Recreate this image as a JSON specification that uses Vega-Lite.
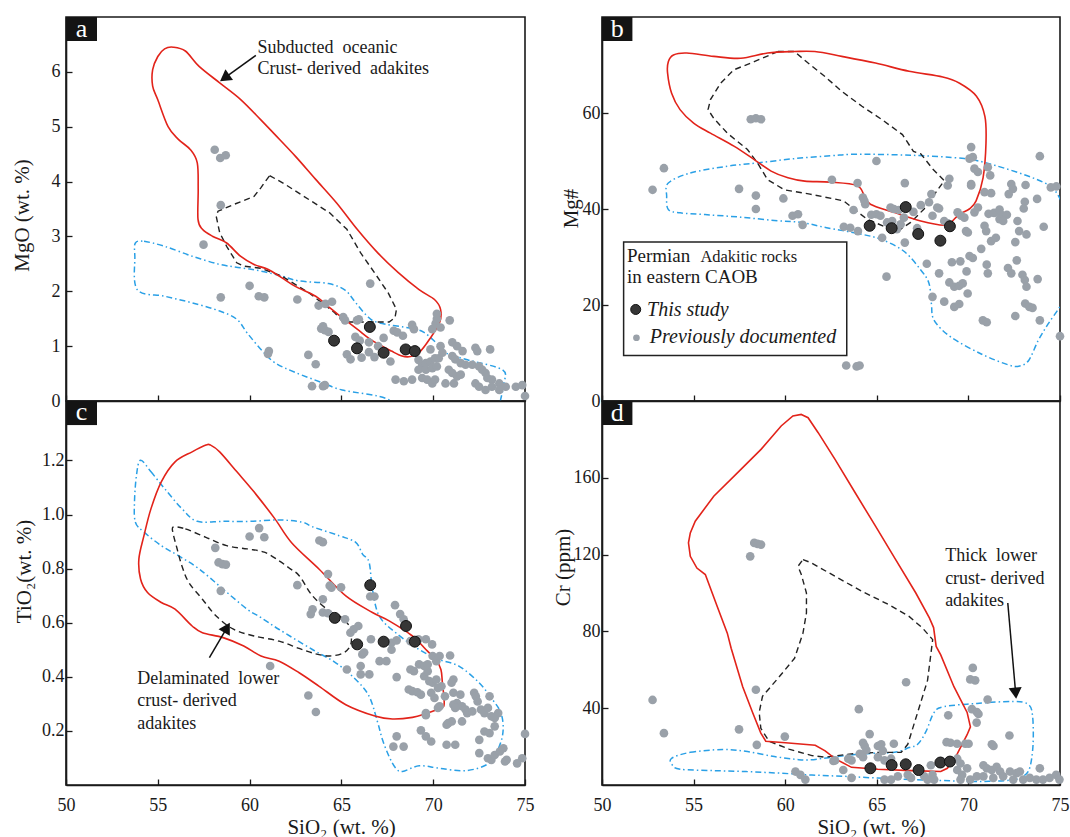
{
"$schema":"https://vega.github.io/schema/vega-lite/v6.json",
"background":"white",
"padding":{"left":10,"top":14,"right":0,"bottom":0},
"columns":2,
"spacing":{"row":0,"column":77},
"bounds":"flush",
"config":{
 "view":{"stroke":"#1a1a1a","strokeWidth":1.6},
 "axis":{"grid":false,"domainColor":"#1a1a1a","domainWidth":1.6,"tickColor":"#1a1a1a","tickWidth":1.3,"tickSize":-6,"labelFont":"Liberation Serif","labelFontSize":18,"labelColor":"#1a1a1a","titleFont":"Liberation Serif","titleFontSize":21,"titleFontWeight":"normal","titleColor":"#1a1a1a","labelFlush":false,"labelOverlap":false,"titleBaseline":"middle","titleAlign":"center"},
 "text":{"font":"Liberation Serif","color":"#1a1a1a"}
},
"datasets":{
"a_pts":[
{"SiO2":58.1,"MgO":4.58,"g":"p"},{"SiO2":58.4,"MgO":4.43,"g":"p"},{"SiO2":58.7,"MgO":4.48,"g":"p"},{"SiO2":58.43,"MgO":3.57,"g":"p"},{"SiO2":57.49,"MgO":2.85,"g":"p"},{"SiO2":58.43,"MgO":1.89,"g":"p"},{"SiO2":60.0,"MgO":2.1,"g":"p"},{"SiO2":60.5,"MgO":1.91,"g":"p"},{"SiO2":60.8,"MgO":1.89,"g":"p"},{"SiO2":62.6,"MgO":1.85,"g":"p"},{"SiO2":66.57,"MgO":2.14,"g":"p"},{"SiO2":61.05,"MgO":0.91,"g":"p"},{"SiO2":61.0,"MgO":0.86,"g":"p"},{"SiO2":63.2,"MgO":0.84,"g":"p"},{"SiO2":63.6,"MgO":0.67,"g":"p"},{"SiO2":63.4,"MgO":0.27,"g":"p"},{"SiO2":64.0,"MgO":0.27,"g":"p"},{"SiO2":64.1,"MgO":0.29,"g":"p"},{"SiO2":63.76,"MgO":1.74,"g":"p"},{"SiO2":64.13,"MgO":1.77,"g":"p"},{"SiO2":64.49,"MgO":1.81,"g":"p"},{"SiO2":63.9,"MgO":1.32,"g":"p"},{"SiO2":64.1,"MgO":1.29,"g":"p"},{"SiO2":64.3,"MgO":1.26,"g":"p"},{"SiO2":64.0,"MgO":1.36,"g":"p"},{"SiO2":65.1,"MgO":1.53,"g":"p"},{"SiO2":65.2,"MgO":1.47,"g":"p"},{"SiO2":65.85,"MgO":1.47,"g":"p"},{"SiO2":65.95,"MgO":1.49,"g":"p"},{"SiO2":65.76,"MgO":1.17,"g":"p"},{"SiO2":66.0,"MgO":1.1,"g":"p"},{"SiO2":66.5,"MgO":1.07,"g":"p"},{"SiO2":67.0,"MgO":1.0,"g":"p"},{"SiO2":65.3,"MgO":0.85,"g":"p"},{"SiO2":65.5,"MgO":0.76,"g":"p"},{"SiO2":66.1,"MgO":0.79,"g":"p"},{"SiO2":66.5,"MgO":0.89,"g":"p"},{"SiO2":67.85,"MgO":1.28,"g":"p"},{"SiO2":68.04,"MgO":1.25,"g":"p"},{"SiO2":68.35,"MgO":1.19,"g":"p"},{"SiO2":68.85,"MgO":1.39,"g":"p"},{"SiO2":68.95,"MgO":1.31,"g":"p"},{"SiO2":67.95,"MgO":0.39,"g":"p"},{"SiO2":68.4,"MgO":0.36,"g":"p"},{"SiO2":68.85,"MgO":0.39,"g":"p"},{"SiO2":67.67,"MgO":0.72,"g":"p"},{"SiO2":69.2,"MgO":0.75,"g":"p"},{"SiO2":69.4,"MgO":0.66,"g":"p"},{"SiO2":69.6,"MgO":0.69,"g":"p"},{"SiO2":69.85,"MgO":0.72,"g":"p"},{"SiO2":70.1,"MgO":0.78,"g":"p"},{"SiO2":69.2,"MgO":0.57,"g":"p"},{"SiO2":69.6,"MgO":0.57,"g":"p"},{"SiO2":69.95,"MgO":0.6,"g":"p"},{"SiO2":70.2,"MgO":0.63,"g":"p"},{"SiO2":69.4,"MgO":0.42,"g":"p"},{"SiO2":69.67,"MgO":0.39,"g":"p"},{"SiO2":69.95,"MgO":0.32,"g":"p"},{"SiO2":70.1,"MgO":0.39,"g":"p"},{"SiO2":70.3,"MgO":0.78,"g":"p"},{"SiO2":70.5,"MgO":0.88,"g":"p"},{"SiO2":70.4,"MgO":1.0,"g":"p"},{"SiO2":69.95,"MgO":1.31,"g":"p"},{"SiO2":70.13,"MgO":1.41,"g":"p"},{"SiO2":70.2,"MgO":1.5,"g":"p"},{"SiO2":70.2,"MgO":1.59,"g":"p"},{"SiO2":70.4,"MgO":1.34,"g":"p"},{"SiO2":70.9,"MgO":1.47,"g":"p"},{"SiO2":71.04,"MgO":1.07,"g":"p"},{"SiO2":71.3,"MgO":1.0,"g":"p"},{"SiO2":71.6,"MgO":0.91,"g":"p"},{"SiO2":71.04,"MgO":0.82,"g":"p"},{"SiO2":71.2,"MgO":0.76,"g":"p"},{"SiO2":71.5,"MgO":0.69,"g":"p"},{"SiO2":71.76,"MgO":0.66,"g":"p"},{"SiO2":72.13,"MgO":0.66,"g":"p"},{"SiO2":70.85,"MgO":0.57,"g":"p"},{"SiO2":71.04,"MgO":0.51,"g":"p"},{"SiO2":71.3,"MgO":0.45,"g":"p"},{"SiO2":70.67,"MgO":0.32,"g":"p"},{"SiO2":71.13,"MgO":0.32,"g":"p"},{"SiO2":71.5,"MgO":0.48,"g":"p"},{"SiO2":72.3,"MgO":0.97,"g":"p"},{"SiO2":72.4,"MgO":0.91,"g":"p"},{"SiO2":73.1,"MgO":0.94,"g":"p"},{"SiO2":72.5,"MgO":0.63,"g":"p"},{"SiO2":72.67,"MgO":0.57,"g":"p"},{"SiO2":72.85,"MgO":0.51,"g":"p"},{"SiO2":72.95,"MgO":0.42,"g":"p"},{"SiO2":73.2,"MgO":0.39,"g":"p"},{"SiO2":73.6,"MgO":0.32,"g":"p"},{"SiO2":73.95,"MgO":0.26,"g":"p"},{"SiO2":72.3,"MgO":0.32,"g":"p"},{"SiO2":72.5,"MgO":0.26,"g":"p"},{"SiO2":72.85,"MgO":0.2,"g":"p"},{"SiO2":73.2,"MgO":0.26,"g":"p"},{"SiO2":73.6,"MgO":0.2,"g":"p"},{"SiO2":74.5,"MgO":0.26,"g":"p"},{"SiO2":74.85,"MgO":0.29,"g":"p"},{"SiO2":75.0,"MgO":0.09,"g":"p"},{"SiO2":69.85,"MgO":0.94,"g":"p"},{"SiO2":67.3,"MgO":1.15,"g":"p"},{"SiO2":66.8,"MgO":0.8,"g":"p"},
{"SiO2":64.6,"MgO":1.1,"g":"t"},{"SiO2":65.85,"MgO":0.96,"g":"t"},{"SiO2":66.55,"MgO":1.35,"g":"t"},{"SiO2":67.3,"MgO":0.88,"g":"t"},{"SiO2":68.5,"MgO":0.94,"g":"t"},{"SiO2":69.0,"MgO":0.91,"g":"t"}],
"a_red":[{"SiO2":55.84,"MgO":6.45},{"SiO2":56.5,"MgO":6.38},{"SiO2":57.25,"MgO":6.1},{"SiO2":58.37,"MgO":5.8},{"SiO2":59.5,"MgO":5.5},{"SiO2":60.6,"MgO":5.13},{"SiO2":61.37,"MgO":4.86},{"SiO2":62.5,"MgO":4.46},{"SiO2":63.6,"MgO":4.04},{"SiO2":64.74,"MgO":3.61},{"SiO2":65.86,"MgO":3.13},{"SiO2":66.98,"MgO":2.7},{"SiO2":68.1,"MgO":2.34},{"SiO2":69.23,"MgO":2.03},{"SiO2":70.07,"MgO":1.85},{"SiO2":70.4,"MgO":1.67},{"SiO2":70.35,"MgO":1.43},{"SiO2":69.79,"MgO":1.12},{"SiO2":69.23,"MgO":0.88},{"SiO2":68.76,"MgO":0.81},{"SiO2":68.3,"MgO":0.82},{"SiO2":67.73,"MgO":0.91},{"SiO2":66.6,"MgO":1.12},{"SiO2":65.86,"MgO":1.31},{"SiO2":64.93,"MgO":1.55},{"SiO2":64.36,"MgO":1.7},{"SiO2":63.6,"MgO":1.91},{"SiO2":62.49,"MgO":2.09},{"SiO2":61.74,"MgO":2.25},{"SiO2":60.99,"MgO":2.4},{"SiO2":60.24,"MgO":2.49},{"SiO2":59.5,"MgO":2.64},{"SiO2":58.75,"MgO":2.88},{"SiO2":58.0,"MgO":3.0},{"SiO2":57.43,"MgO":3.13},{"SiO2":57.19,"MgO":3.31},{"SiO2":57.2,"MgO":3.86},{"SiO2":57.15,"MgO":4.34},{"SiO2":56.78,"MgO":4.58},{"SiO2":56.12,"MgO":4.77},{"SiO2":55.56,"MgO":5.0},{"SiO2":55.0,"MgO":5.49},{"SiO2":54.72,"MgO":5.74},{"SiO2":54.72,"MgO":6.04},{"SiO2":55.0,"MgO":6.28},{"SiO2":55.37,"MgO":6.42}],
"a_blk":[{"SiO2":61.09,"MgO":4.11},{"SiO2":61.93,"MgO":3.95},{"SiO2":63.24,"MgO":3.67},{"SiO2":64.36,"MgO":3.43},{"SiO2":65.3,"MgO":3.13},{"SiO2":66.05,"MgO":2.7},{"SiO2":66.8,"MgO":2.34},{"SiO2":67.55,"MgO":1.97},{"SiO2":68.0,"MgO":1.67},{"SiO2":67.92,"MgO":1.52},{"SiO2":67.6,"MgO":1.44},{"SiO2":66.3,"MgO":1.44},{"SiO2":65.1,"MgO":1.44},{"SiO2":64.6,"MgO":1.62},{"SiO2":63.24,"MgO":1.97},{"SiO2":61.74,"MgO":2.28},{"SiO2":60.6,"MgO":2.42},{"SiO2":59.68,"MgO":2.46},{"SiO2":59.3,"MgO":2.52},{"SiO2":58.75,"MgO":2.82},{"SiO2":58.37,"MgO":3.07},{"SiO2":58.18,"MgO":3.37},{"SiO2":58.28,"MgO":3.46},{"SiO2":59.12,"MgO":3.58},{"SiO2":60.24,"MgO":3.73},{"SiO2":60.62,"MgO":3.89}],
"a_blu":[{"SiO2":53.78,"MgO":2.88},{"SiO2":54.25,"MgO":2.91},{"SiO2":55.37,"MgO":2.82},{"SiO2":56.87,"MgO":2.64},{"SiO2":58.37,"MgO":2.49},{"SiO2":59.5,"MgO":2.43},{"SiO2":60.6,"MgO":2.37},{"SiO2":61.74,"MgO":2.28},{"SiO2":62.68,"MgO":2.19},{"SiO2":64.3,"MgO":2.14},{"SiO2":65.2,"MgO":2.02},{"SiO2":65.76,"MgO":1.8},{"SiO2":66.4,"MgO":1.55},{"SiO2":67.0,"MgO":1.43},{"SiO2":68.85,"MgO":1.32},{"SiO2":69.5,"MgO":1.25},{"SiO2":70.13,"MgO":1.07},{"SiO2":70.67,"MgO":0.88},{"SiO2":71.76,"MgO":0.76},{"SiO2":73.76,"MgO":0.57},{"SiO2":73.85,"MgO":0.32},{"SiO2":73.67,"MgO":0.02},{"SiO2":73.4,"MgO":-0.4},{"SiO2":68.2,"MgO":-0.4},{"SiO2":67.6,"MgO":0.02},{"SiO2":65.04,"MgO":0.2},{"SiO2":63.99,"MgO":0.33},{"SiO2":62.49,"MgO":0.52},{"SiO2":61.37,"MgO":0.7},{"SiO2":60.62,"MgO":0.94},{"SiO2":59.87,"MgO":1.24},{"SiO2":59.3,"MgO":1.49},{"SiO2":58.37,"MgO":1.64},{"SiO2":56.87,"MgO":1.79},{"SiO2":55.37,"MgO":1.91},{"SiO2":53.88,"MgO":2.03},{"SiO2":53.75,"MgO":2.64}],
"b_pts":[
{"SiO2":52.76,"Mg":44.0,"g":"p"},{"SiO2":53.38,"Mg":48.5,"g":"p"},{"SiO2":57.48,"Mg":44.2,"g":"p"},{"SiO2":58.4,"Mg":42.8,"g":"p"},{"SiO2":58.4,"Mg":40.0,"g":"p"},{"SiO2":58.12,"Mg":58.7,"g":"p"},{"SiO2":58.4,"Mg":58.9,"g":"p"},{"SiO2":58.68,"Mg":58.7,"g":"p"},{"SiO2":59.9,"Mg":42.2,"g":"p"},{"SiO2":60.4,"Mg":38.6,"g":"p"},{"SiO2":60.7,"Mg":38.9,"g":"p"},{"SiO2":60.95,"Mg":36.7,"g":"p"},{"SiO2":62.55,"Mg":46.1,"g":"p"},{"SiO2":63.2,"Mg":36.3,"g":"p"},{"SiO2":63.55,"Mg":36.1,"g":"p"},{"SiO2":63.95,"Mg":45.4,"g":"p"},{"SiO2":63.97,"Mg":35.4,"g":"p"},{"SiO2":64.24,"Mg":42.4,"g":"p"},{"SiO2":64.32,"Mg":41.7,"g":"p"},{"SiO2":64.37,"Mg":41.0,"g":"p"},{"SiO2":63.73,"Mg":39.8,"g":"p"},{"SiO2":64.98,"Mg":38.9,"g":"p"},{"SiO2":65.2,"Mg":38.6,"g":"p"},{"SiO2":65.29,"Mg":34.0,"g":"p"},{"SiO2":65.75,"Mg":40.3,"g":"p"},{"SiO2":65.93,"Mg":40.0,"g":"p"},{"SiO2":66.2,"Mg":39.8,"g":"p"},{"SiO2":65.56,"Mg":37.2,"g":"p"},{"SiO2":65.84,"Mg":37.5,"g":"p"},{"SiO2":66.48,"Mg":38.2,"g":"p"},{"SiO2":66.53,"Mg":45.4,"g":"p"},{"SiO2":66.53,"Mg":33.0,"g":"p"},{"SiO2":65.53,"Mg":25.9,"g":"p"},{"SiO2":64.98,"Mg":50.0,"g":"p"},{"SiO2":67.0,"Mg":39.4,"g":"p"},{"SiO2":67.4,"Mg":40.8,"g":"p"},{"SiO2":67.98,"Mg":43.1,"g":"p"},{"SiO2":67.85,"Mg":41.4,"g":"p"},{"SiO2":68.04,"Mg":38.6,"g":"p"},{"SiO2":68.3,"Mg":40.3,"g":"p"},{"SiO2":68.4,"Mg":40.1,"g":"p"},{"SiO2":68.68,"Mg":37.5,"g":"p"},{"SiO2":68.87,"Mg":37.0,"g":"p"},{"SiO2":68.87,"Mg":44.9,"g":"p"},{"SiO2":68.96,"Mg":46.3,"g":"p"},{"SiO2":69.41,"Mg":39.3,"g":"p"},{"SiO2":69.6,"Mg":38.6,"g":"p"},{"SiO2":69.78,"Mg":38.2,"g":"p"},{"SiO2":69.87,"Mg":35.4,"g":"p"},{"SiO2":69.97,"Mg":35.1,"g":"p"},{"SiO2":70.15,"Mg":52.9,"g":"p"},{"SiO2":70.24,"Mg":50.8,"g":"p"},{"SiO2":70.06,"Mg":50.5,"g":"p"},{"SiO2":70.33,"Mg":48.4,"g":"p"},{"SiO2":70.52,"Mg":47.7,"g":"p"},{"SiO2":70.15,"Mg":45.2,"g":"p"},{"SiO2":70.15,"Mg":44.9,"g":"p"},{"SiO2":71.06,"Mg":48.7,"g":"p"},{"SiO2":71.19,"Mg":47.0,"g":"p"},{"SiO2":70.88,"Mg":43.5,"g":"p"},{"SiO2":71.24,"Mg":43.3,"g":"p"},{"SiO2":70.52,"Mg":40.3,"g":"p"},{"SiO2":70.33,"Mg":39.3,"g":"p"},{"SiO2":71.1,"Mg":39.0,"g":"p"},{"SiO2":71.4,"Mg":39.2,"g":"p"},{"SiO2":71.7,"Mg":39.9,"g":"p"},{"SiO2":71.8,"Mg":38.8,"g":"p"},{"SiO2":72.1,"Mg":38.8,"g":"p"},{"SiO2":71.7,"Mg":37.9,"g":"p"},{"SiO2":71.9,"Mg":37.5,"g":"p"},{"SiO2":70.88,"Mg":36.5,"g":"p"},{"SiO2":70.97,"Mg":35.4,"g":"p"},{"SiO2":71.24,"Mg":33.3,"g":"p"},{"SiO2":71.5,"Mg":34.0,"g":"p"},{"SiO2":70.7,"Mg":31.7,"g":"p"},{"SiO2":70.06,"Mg":30.2,"g":"p"},{"SiO2":70.24,"Mg":29.8,"g":"p"},{"SiO2":69.1,"Mg":28.9,"g":"p"},{"SiO2":69.56,"Mg":29.1,"g":"p"},{"SiO2":67.73,"Mg":28.6,"g":"p"},{"SiO2":68.4,"Mg":26.6,"g":"p"},{"SiO2":68.96,"Mg":24.7,"g":"p"},{"SiO2":69.23,"Mg":23.8,"g":"p"},{"SiO2":69.5,"Mg":24.0,"g":"p"},{"SiO2":69.69,"Mg":24.5,"g":"p"},{"SiO2":69.9,"Mg":27.0,"g":"p"},{"SiO2":69.96,"Mg":22.4,"g":"p"},{"SiO2":68.04,"Mg":21.7,"g":"p"},{"SiO2":68.68,"Mg":20.7,"g":"p"},{"SiO2":69.23,"Mg":19.6,"g":"p"},{"SiO2":69.5,"Mg":20.2,"g":"p"},{"SiO2":71.0,"Mg":28.4,"g":"p"},{"SiO2":71.06,"Mg":26.6,"g":"p"},{"SiO2":72.16,"Mg":27.7,"g":"p"},{"SiO2":72.34,"Mg":26.6,"g":"p"},{"SiO2":72.64,"Mg":29.3,"g":"p"},{"SiO2":72.56,"Mg":33.1,"g":"p"},{"SiO2":72.77,"Mg":35.4,"g":"p"},{"SiO2":73.17,"Mg":34.7,"g":"p"},{"SiO2":72.68,"Mg":37.5,"g":"p"},{"SiO2":72.95,"Mg":26.3,"g":"p"},{"SiO2":73.08,"Mg":25.2,"g":"p"},{"SiO2":73.17,"Mg":23.8,"g":"p"},{"SiO2":73.78,"Mg":25.4,"g":"p"},{"SiO2":74.11,"Mg":36.3,"g":"p"},{"SiO2":73.9,"Mg":51.0,"g":"p"},{"SiO2":74.5,"Mg":44.5,"g":"p"},{"SiO2":74.8,"Mg":44.7,"g":"p"},{"SiO2":73.12,"Mg":45.0,"g":"p"},{"SiO2":73.08,"Mg":41.5,"g":"p"},{"SiO2":73.02,"Mg":40.1,"g":"p"},{"SiO2":72.34,"Mg":45.2,"g":"p"},{"SiO2":72.43,"Mg":44.2,"g":"p"},{"SiO2":72.2,"Mg":43.1,"g":"p"},{"SiO2":73.75,"Mg":42.1,"g":"p"},{"SiO2":73.1,"Mg":20.3,"g":"p"},{"SiO2":73.33,"Mg":19.6,"g":"p"},{"SiO2":73.5,"Mg":19.4,"g":"p"},{"SiO2":72.56,"Mg":17.7,"g":"p"},{"SiO2":73.9,"Mg":16.8,"g":"p"},{"SiO2":70.79,"Mg":16.8,"g":"p"},{"SiO2":71.0,"Mg":16.4,"g":"p"},{"SiO2":75.0,"Mg":13.5,"g":"p"},{"SiO2":63.33,"Mg":7.4,"g":"p"},{"SiO2":63.9,"Mg":7.2,"g":"p"},{"SiO2":64.06,"Mg":7.4,"g":"p"},{"SiO2":66.1,"Mg":35.8,"g":"p"},{"SiO2":66.3,"Mg":36.8,"g":"p"},{"SiO2":67.2,"Mg":36.0,"g":"p"},{"SiO2":64.7,"Mg":38.8,"g":"p"},
{"SiO2":64.61,"Mg":36.5,"g":"t"},{"SiO2":65.81,"Mg":36.0,"g":"t"},{"SiO2":66.58,"Mg":40.4,"g":"t"},{"SiO2":67.26,"Mg":34.8,"g":"t"},{"SiO2":68.47,"Mg":33.4,"g":"t"},{"SiO2":68.99,"Mg":36.4,"g":"t"}],
"b_red":[{"SiO2":53.9,"Mg":72.1},{"SiO2":54.63,"Mg":72.5},{"SiO2":56.1,"Mg":71.8},{"SiO2":57.57,"Mg":71.4},{"SiO2":59.04,"Mg":72.5},{"SiO2":60.51,"Mg":72.8},{"SiO2":61.62,"Mg":72.8},{"SiO2":63.09,"Mg":71.8},{"SiO2":64.93,"Mg":70.4},{"SiO2":66.76,"Mg":68.7},{"SiO2":68.6,"Mg":67.5},{"SiO2":69.52,"Mg":66.2},{"SiO2":70.44,"Mg":63.5},{"SiO2":70.9,"Mg":59.3},{"SiO2":70.96,"Mg":53.7},{"SiO2":70.8,"Mg":46.5},{"SiO2":70.42,"Mg":41.7},{"SiO2":70.05,"Mg":40.0},{"SiO2":69.5,"Mg":38.9},{"SiO2":69.05,"Mg":37.2},{"SiO2":68.7,"Mg":36.6},{"SiO2":67.4,"Mg":37.5},{"SiO2":65.93,"Mg":39.3},{"SiO2":64.65,"Mg":41.0},{"SiO2":64.32,"Mg":42.8},{"SiO2":63.91,"Mg":44.9},{"SiO2":62.45,"Mg":45.6},{"SiO2":61.07,"Mg":45.8},{"SiO2":60.15,"Mg":46.5},{"SiO2":59.23,"Mg":47.9},{"SiO2":58.31,"Mg":50.3},{"SiO2":57.2,"Mg":53.1},{"SiO2":55.92,"Mg":55.8},{"SiO2":55.0,"Mg":57.9},{"SiO2":54.26,"Mg":60.7},{"SiO2":53.8,"Mg":64.1},{"SiO2":53.58,"Mg":68.3},{"SiO2":53.62,"Mg":70.7}],
"b_blk":[{"SiO2":59.6,"Mg":72.8},{"SiO2":60.51,"Mg":72.8},{"SiO2":61.25,"Mg":70.4},{"SiO2":62.17,"Mg":67.6},{"SiO2":63.09,"Mg":64.5},{"SiO2":64.19,"Mg":61.4},{"SiO2":65.29,"Mg":58.6},{"SiO2":66.4,"Mg":55.5},{"SiO2":67.0,"Mg":52.0},{"SiO2":67.4,"Mg":51.5},{"SiO2":68.04,"Mg":48.4},{"SiO2":68.68,"Mg":45.9},{"SiO2":67.58,"Mg":40.0},{"SiO2":66.85,"Mg":37.2},{"SiO2":66.3,"Mg":35.8},{"SiO2":65.56,"Mg":36.1},{"SiO2":64.46,"Mg":37.9},{"SiO2":63.18,"Mg":41.7},{"SiO2":61.35,"Mg":43.1},{"SiO2":59.96,"Mg":44.0},{"SiO2":59.04,"Mg":46.1},{"SiO2":58.49,"Mg":49.6},{"SiO2":57.94,"Mg":52.4},{"SiO2":56.84,"Mg":55.8},{"SiO2":56.1,"Mg":58.9},{"SiO2":55.79,"Mg":60.7},{"SiO2":55.92,"Mg":62.8},{"SiO2":56.47,"Mg":66.2},{"SiO2":57.2,"Mg":69.0},{"SiO2":58.31,"Mg":70.7}],
"b_blu":[{"SiO2":53.62,"Mg":45.4},{"SiO2":54.82,"Mg":47.5},{"SiO2":56.84,"Mg":48.9},{"SiO2":58.49,"Mg":49.6},{"SiO2":60.51,"Mg":50.5},{"SiO2":62.54,"Mg":51.1},{"SiO2":63.91,"Mg":51.4},{"SiO2":66.85,"Mg":51.2},{"SiO2":69.78,"Mg":50.5},{"SiO2":71.43,"Mg":49.1},{"SiO2":73.44,"Mg":46.6},{"SiO2":74.54,"Mg":44.5},{"SiO2":75.09,"Mg":41.4},{"SiO2":75.6,"Mg":36},{"SiO2":75.6,"Mg":25},{"SiO2":75.09,"Mg":20.3},{"SiO2":74.36,"Mg":16.1},{"SiO2":73.81,"Mg":12.6},{"SiO2":73.3,"Mg":8.5},{"SiO2":72.8,"Mg":7.3},{"SiO2":72.2,"Mg":7.5},{"SiO2":70.7,"Mg":9.8},{"SiO2":69.05,"Mg":13.3},{"SiO2":68.13,"Mg":16.8},{"SiO2":67.98,"Mg":20.3},{"SiO2":67.85,"Mg":24.5},{"SiO2":67.4,"Mg":27.3},{"SiO2":66.48,"Mg":31.2},{"SiO2":65.29,"Mg":33.6},{"SiO2":64.1,"Mg":34.8},{"SiO2":62.26,"Mg":36.1},{"SiO2":60.88,"Mg":37.2},{"SiO2":59.41,"Mg":37.6},{"SiO2":57.57,"Mg":38.3},{"SiO2":55.74,"Mg":38.8},{"SiO2":54.27,"Mg":39.2},{"SiO2":53.62,"Mg":39.9},{"SiO2":53.53,"Mg":42.7}],
"c_pts":[
{"SiO2":58.13,"TiO2":0.877,"g":"p"},{"SiO2":58.31,"TiO2":0.823,"g":"p"},{"SiO2":58.52,"TiO2":0.817,"g":"p"},{"SiO2":58.71,"TiO2":0.815,"g":"p"},{"SiO2":58.43,"TiO2":0.718,"g":"p"},{"SiO2":60.0,"TiO2":0.919,"g":"p"},{"SiO2":60.52,"TiO2":0.95,"g":"p"},{"SiO2":60.8,"TiO2":0.916,"g":"p"},{"SiO2":61.12,"TiO2":0.44,"g":"p"},{"SiO2":62.6,"TiO2":0.739,"g":"p"},{"SiO2":63.2,"TiO2":0.331,"g":"p"},{"SiO2":63.61,"TiO2":0.27,"g":"p"},{"SiO2":63.8,"TiO2":0.904,"g":"p"},{"SiO2":63.99,"TiO2":0.898,"g":"p"},{"SiO2":64.27,"TiO2":0.78,"g":"p"},{"SiO2":64.36,"TiO2":0.737,"g":"p"},{"SiO2":64.46,"TiO2":0.73,"g":"p"},{"SiO2":64.98,"TiO2":0.731,"g":"p"},{"SiO2":63.99,"TiO2":0.687,"g":"p"},{"SiO2":63.43,"TiO2":0.65,"g":"p"},{"SiO2":63.33,"TiO2":0.632,"g":"p"},{"SiO2":63.99,"TiO2":0.638,"g":"p"},{"SiO2":64.27,"TiO2":0.635,"g":"p"},{"SiO2":65.2,"TiO2":0.613,"g":"p"},{"SiO2":65.49,"TiO2":0.563,"g":"p"},{"SiO2":65.67,"TiO2":0.576,"g":"p"},{"SiO2":65.92,"TiO2":0.588,"g":"p"},{"SiO2":66.14,"TiO2":0.483,"g":"p"},{"SiO2":66.24,"TiO2":0.49,"g":"p"},{"SiO2":65.3,"TiO2":0.427,"g":"p"},{"SiO2":66.05,"TiO2":0.44,"g":"p"},{"SiO2":66.05,"TiO2":0.409,"g":"p"},{"SiO2":66.52,"TiO2":0.409,"g":"p"},{"SiO2":66.57,"TiO2":0.697,"g":"p"},{"SiO2":66.8,"TiO2":0.697,"g":"p"},{"SiO2":66.61,"TiO2":0.539,"g":"p"},{"SiO2":67.08,"TiO2":0.458,"g":"p"},{"SiO2":67.45,"TiO2":0.458,"g":"p"},{"SiO2":67.73,"TiO2":0.526,"g":"p"},{"SiO2":67.73,"TiO2":0.5,"g":"p"},{"SiO2":67.92,"TiO2":0.665,"g":"p"},{"SiO2":68.01,"TiO2":0.535,"g":"p"},{"SiO2":68.01,"TiO2":0.399,"g":"p"},{"SiO2":68.2,"TiO2":0.632,"g":"p"},{"SiO2":68.39,"TiO2":0.613,"g":"p"},{"SiO2":68.76,"TiO2":0.532,"g":"p"},{"SiO2":68.86,"TiO2":0.529,"g":"p"},{"SiO2":69.2,"TiO2":0.539,"g":"p"},{"SiO2":69.6,"TiO2":0.539,"g":"p"},{"SiO2":69.94,"TiO2":0.52,"g":"p"},{"SiO2":68.76,"TiO2":0.427,"g":"p"},{"SiO2":68.95,"TiO2":0.421,"g":"p"},{"SiO2":68.67,"TiO2":0.353,"g":"p"},{"SiO2":68.86,"TiO2":0.347,"g":"p"},{"SiO2":69.14,"TiO2":0.343,"g":"p"},{"SiO2":69.33,"TiO2":0.334,"g":"p"},{"SiO2":69.51,"TiO2":0.402,"g":"p"},{"SiO2":69.7,"TiO2":0.421,"g":"p"},{"SiO2":69.23,"TiO2":0.446,"g":"p"},{"SiO2":69.51,"TiO2":0.44,"g":"p"},{"SiO2":69.7,"TiO2":0.446,"g":"p"},{"SiO2":69.97,"TiO2":0.477,"g":"p"},{"SiO2":70.17,"TiO2":0.458,"g":"p"},{"SiO2":70.35,"TiO2":0.477,"g":"p"},{"SiO2":69.79,"TiO2":0.384,"g":"p"},{"SiO2":69.97,"TiO2":0.378,"g":"p"},{"SiO2":70.17,"TiO2":0.39,"g":"p"},{"SiO2":69.89,"TiO2":0.341,"g":"p"},{"SiO2":70.07,"TiO2":0.322,"g":"p"},{"SiO2":70.26,"TiO2":0.359,"g":"p"},{"SiO2":70.45,"TiO2":0.365,"g":"p"},{"SiO2":70.35,"TiO2":0.291,"g":"p"},{"SiO2":70.26,"TiO2":0.285,"g":"p"},{"SiO2":69.6,"TiO2":0.266,"g":"p"},{"SiO2":69.6,"TiO2":0.258,"g":"p"},{"SiO2":69.33,"TiO2":0.202,"g":"p"},{"SiO2":69.6,"TiO2":0.18,"g":"p"},{"SiO2":69.89,"TiO2":0.161,"g":"p"},{"SiO2":68.01,"TiO2":0.18,"g":"p"},{"SiO2":67.83,"TiO2":0.142,"g":"p"},{"SiO2":68.39,"TiO2":0.142,"g":"p"},{"SiO2":70.73,"TiO2":0.223,"g":"p"},{"SiO2":70.82,"TiO2":0.229,"g":"p"},{"SiO2":71.01,"TiO2":0.235,"g":"p"},{"SiO2":70.73,"TiO2":0.149,"g":"p"},{"SiO2":71.2,"TiO2":0.149,"g":"p"},{"SiO2":70.92,"TiO2":0.479,"g":"p"},{"SiO2":71.1,"TiO2":0.39,"g":"p"},{"SiO2":71.0,"TiO2":0.378,"g":"p"},{"SiO2":70.64,"TiO2":0.328,"g":"p"},{"SiO2":71.1,"TiO2":0.341,"g":"p"},{"SiO2":71.48,"TiO2":0.334,"g":"p"},{"SiO2":71.29,"TiO2":0.303,"g":"p"},{"SiO2":71.57,"TiO2":0.291,"g":"p"},{"SiO2":71.76,"TiO2":0.279,"g":"p"},{"SiO2":71.1,"TiO2":0.297,"g":"p"},{"SiO2":71.2,"TiO2":0.285,"g":"p"},{"SiO2":71.57,"TiO2":0.235,"g":"p"},{"SiO2":71.85,"TiO2":0.266,"g":"p"},{"SiO2":72.13,"TiO2":0.272,"g":"p"},{"SiO2":72.23,"TiO2":0.341,"g":"p"},{"SiO2":72.32,"TiO2":0.328,"g":"p"},{"SiO2":72.42,"TiO2":0.309,"g":"p"},{"SiO2":72.6,"TiO2":0.279,"g":"p"},{"SiO2":72.79,"TiO2":0.266,"g":"p"},{"SiO2":72.98,"TiO2":0.285,"g":"p"},{"SiO2":73.07,"TiO2":0.328,"g":"p"},{"SiO2":72.51,"TiO2":0.167,"g":"p"},{"SiO2":72.51,"TiO2":0.118,"g":"p"},{"SiO2":72.79,"TiO2":0.198,"g":"p"},{"SiO2":73.07,"TiO2":0.192,"g":"p"},{"SiO2":73.35,"TiO2":0.217,"g":"p"},{"SiO2":72.98,"TiO2":0.099,"g":"p"},{"SiO2":73.17,"TiO2":0.093,"g":"p"},{"SiO2":73.35,"TiO2":0.111,"g":"p"},{"SiO2":73.63,"TiO2":0.124,"g":"p"},{"SiO2":73.82,"TiO2":0.136,"g":"p"},{"SiO2":73.91,"TiO2":0.087,"g":"p"},{"SiO2":74.0,"TiO2":0.093,"g":"p"},{"SiO2":74.57,"TiO2":0.08,"g":"p"},{"SiO2":74.85,"TiO2":0.099,"g":"p"},{"SiO2":75.0,"TiO2":0.189,"g":"p"},{"SiO2":73.17,"TiO2":0.254,"g":"p"},{"SiO2":73.35,"TiO2":0.248,"g":"p"},{"SiO2":73.54,"TiO2":0.266,"g":"p"},
{"SiO2":64.64,"TiO2":0.618,"g":"t"},{"SiO2":65.86,"TiO2":0.52,"g":"t"},{"SiO2":66.57,"TiO2":0.739,"g":"t"},{"SiO2":67.3,"TiO2":0.53,"g":"t"},{"SiO2":68.52,"TiO2":0.588,"g":"t"},{"SiO2":69.0,"TiO2":0.53,"g":"t"}],
"c_red":[{"SiO2":57.87,"TiO2":1.257},{"SiO2":58.37,"TiO2":1.232},{"SiO2":59.31,"TiO2":1.158},{"SiO2":60.24,"TiO2":1.084},{"SiO2":61.37,"TiO2":0.985},{"SiO2":62.3,"TiO2":0.895},{"SiO2":63.79,"TiO2":0.798},{"SiO2":65.24,"TiO2":0.699},{"SiO2":66.69,"TiO2":0.638},{"SiO2":67.6,"TiO2":0.607},{"SiO2":68.87,"TiO2":0.551},{"SiO2":69.6,"TiO2":0.501},{"SiO2":70.14,"TiO2":0.464},{"SiO2":70.42,"TiO2":0.427},{"SiO2":70.5,"TiO2":0.378},{"SiO2":70.6,"TiO2":0.303},{"SiO2":70.42,"TiO2":0.285},{"SiO2":69.6,"TiO2":0.264},{"SiO2":68.87,"TiO2":0.25},{"SiO2":67.78,"TiO2":0.244},{"SiO2":66.87,"TiO2":0.254},{"SiO2":65.24,"TiO2":0.297},{"SiO2":63.79,"TiO2":0.365},{"SiO2":62.7,"TiO2":0.415},{"SiO2":61.61,"TiO2":0.458},{"SiO2":60.62,"TiO2":0.477},{"SiO2":59.68,"TiO2":0.514},{"SiO2":58.56,"TiO2":0.545},{"SiO2":57.43,"TiO2":0.563},{"SiO2":56.87,"TiO2":0.588},{"SiO2":55.94,"TiO2":0.65},{"SiO2":55.19,"TiO2":0.675},{"SiO2":54.44,"TiO2":0.712},{"SiO2":54.06,"TiO2":0.762},{"SiO2":53.97,"TiO2":0.836},{"SiO2":54.25,"TiO2":0.923},{"SiO2":54.63,"TiO2":1.022},{"SiO2":55.19,"TiO2":1.121},{"SiO2":55.94,"TiO2":1.195},{"SiO2":56.87,"TiO2":1.232},{"SiO2":57.62,"TiO2":1.257}],
"c_blk":[{"SiO2":55.84,"TiO2":0.954},{"SiO2":56.5,"TiO2":0.947},{"SiO2":57.62,"TiO2":0.916},{"SiO2":58.75,"TiO2":0.885},{"SiO2":59.87,"TiO2":0.873},{"SiO2":60.8,"TiO2":0.861},{"SiO2":61.61,"TiO2":0.829},{"SiO2":62.2,"TiO2":0.8},{"SiO2":62.7,"TiO2":0.774},{"SiO2":63.42,"TiO2":0.7},{"SiO2":64.33,"TiO2":0.644},{"SiO2":65.0,"TiO2":0.62},{"SiO2":65.45,"TiO2":0.585},{"SiO2":65.55,"TiO2":0.545},{"SiO2":65.45,"TiO2":0.51},{"SiO2":65.06,"TiO2":0.487},{"SiO2":64.36,"TiO2":0.477},{"SiO2":63.6,"TiO2":0.485},{"SiO2":62.7,"TiO2":0.505},{"SiO2":61.61,"TiO2":0.532},{"SiO2":60.24,"TiO2":0.551},{"SiO2":59.12,"TiO2":0.576},{"SiO2":58.18,"TiO2":0.625},{"SiO2":57.43,"TiO2":0.687},{"SiO2":56.69,"TiO2":0.749},{"SiO2":56.31,"TiO2":0.811},{"SiO2":56.03,"TiO2":0.879},{"SiO2":55.84,"TiO2":0.929}],
"c_blu":[{"SiO2":54.06,"TiO2":1.201},{"SiO2":54.63,"TiO2":1.158},{"SiO2":55.37,"TiO2":1.096},{"SiO2":56.31,"TiO2":1.022},{"SiO2":57.15,"TiO2":0.975},{"SiO2":58.56,"TiO2":0.975},{"SiO2":60.06,"TiO2":0.975},{"SiO2":61.61,"TiO2":0.98},{"SiO2":62.87,"TiO2":0.972},{"SiO2":63.42,"TiO2":0.955},{"SiO2":64.87,"TiO2":0.922},{"SiO2":65.78,"TiO2":0.897},{"SiO2":66.15,"TiO2":0.854},{"SiO2":66.51,"TiO2":0.823},{"SiO2":66.69,"TiO2":0.724},{"SiO2":67.06,"TiO2":0.625},{"SiO2":67.96,"TiO2":0.563},{"SiO2":69.24,"TiO2":0.501},{"SiO2":70.33,"TiO2":0.464},{"SiO2":71.42,"TiO2":0.439},{"SiO2":72.5,"TiO2":0.378},{"SiO2":73.23,"TiO2":0.316},{"SiO2":73.69,"TiO2":0.266},{"SiO2":73.81,"TiO2":0.204},{"SiO2":73.6,"TiO2":0.143},{"SiO2":73.05,"TiO2":0.081},{"SiO2":71.78,"TiO2":0.053},{"SiO2":70.33,"TiO2":0.062},{"SiO2":69.24,"TiO2":0.071},{"SiO2":68.33,"TiO2":0.05},{"SiO2":67.96,"TiO2":0.062},{"SiO2":67.6,"TiO2":0.105},{"SiO2":67.24,"TiO2":0.167},{"SiO2":66.96,"TiO2":0.235},{"SiO2":66.51,"TiO2":0.328},{"SiO2":65.78,"TiO2":0.39},{"SiO2":64.69,"TiO2":0.452},{"SiO2":63.42,"TiO2":0.501},{"SiO2":61.61,"TiO2":0.575},{"SiO2":60.6,"TiO2":0.62},{"SiO2":59.87,"TiO2":0.65},{"SiO2":58.56,"TiO2":0.724},{"SiO2":57.25,"TiO2":0.799},{"SiO2":56.12,"TiO2":0.848},{"SiO2":55.19,"TiO2":0.885},{"SiO2":54.25,"TiO2":0.935},{"SiO2":53.78,"TiO2":0.972},{"SiO2":53.73,"TiO2":1.046},{"SiO2":53.84,"TiO2":1.146}],
"d_pts":[
{"SiO2":52.76,"Cr":44.3,"g":"p"},{"SiO2":53.38,"Cr":27.0,"g":"p"},{"SiO2":57.48,"Cr":29.0,"g":"p"},{"SiO2":58.09,"Cr":119.1,"g":"p"},{"SiO2":58.31,"Cr":126.1,"g":"p"},{"SiO2":58.49,"Cr":125.6,"g":"p"},{"SiO2":58.68,"Cr":125.2,"g":"p"},{"SiO2":58.4,"Cr":49.6,"g":"p"},{"SiO2":58.45,"Cr":20.9,"g":"p"},{"SiO2":59.98,"Cr":25.2,"g":"p"},{"SiO2":60.56,"Cr":7.0,"g":"p"},{"SiO2":60.83,"Cr":5.3,"g":"p"},{"SiO2":61.1,"Cr":2.8,"g":"p"},{"SiO2":62.63,"Cr":12.5,"g":"p"},{"SiO2":62.72,"Cr":12.8,"g":"p"},{"SiO2":63.44,"Cr":13.7,"g":"p"},{"SiO2":63.62,"Cr":12.8,"g":"p"},{"SiO2":63.17,"Cr":7.8,"g":"p"},{"SiO2":63.62,"Cr":3.7,"g":"p"},{"SiO2":64.02,"Cr":39.5,"g":"p"},{"SiO2":64.61,"Cr":26.5,"g":"p"},{"SiO2":64.25,"Cr":22.0,"g":"p"},{"SiO2":64.34,"Cr":20.3,"g":"p"},{"SiO2":64.43,"Cr":18.2,"g":"p"},{"SiO2":64.07,"Cr":16.2,"g":"p"},{"SiO2":64.25,"Cr":14.5,"g":"p"},{"SiO2":65.06,"Cr":20.3,"g":"p"},{"SiO2":65.24,"Cr":21.2,"g":"p"},{"SiO2":65.33,"Cr":17.8,"g":"p"},{"SiO2":65.93,"Cr":21.5,"g":"p"},{"SiO2":66.6,"Cr":53.5,"g":"p"},{"SiO2":65.06,"Cr":14.5,"g":"p"},{"SiO2":65.42,"Cr":12.8,"g":"p"},{"SiO2":65.78,"Cr":13.7,"g":"p"},{"SiO2":66.15,"Cr":4.5,"g":"p"},{"SiO2":66.69,"Cr":5.3,"g":"p"},{"SiO2":66.87,"Cr":3.7,"g":"p"},{"SiO2":65.42,"Cr":2.8,"g":"p"},{"SiO2":65.78,"Cr":2.8,"g":"p"},{"SiO2":67.95,"Cr":10.3,"g":"p"},{"SiO2":68.04,"Cr":5.3,"g":"p"},{"SiO2":68.13,"Cr":2.8,"g":"p"},{"SiO2":67.59,"Cr":4.5,"g":"p"},{"SiO2":67.77,"Cr":2.8,"g":"p"},{"SiO2":68.9,"Cr":36.3,"g":"p"},{"SiO2":68.81,"Cr":22.3,"g":"p"},{"SiO2":69.02,"Cr":22.0,"g":"p"},{"SiO2":69.38,"Cr":21.5,"g":"p"},{"SiO2":69.83,"Cr":21.5,"g":"p"},{"SiO2":70.01,"Cr":21.5,"g":"p"},{"SiO2":70.24,"Cr":61.0,"g":"p"},{"SiO2":70.1,"Cr":55.0,"g":"p"},{"SiO2":70.37,"Cr":54.5,"g":"p"},{"SiO2":70.19,"Cr":39.5,"g":"p"},{"SiO2":70.46,"Cr":38.0,"g":"p"},{"SiO2":70.55,"Cr":37.0,"g":"p"},{"SiO2":70.45,"Cr":32.5,"g":"p"},{"SiO2":71.05,"Cr":44.5,"g":"p"},{"SiO2":71.28,"Cr":21.2,"g":"p"},{"SiO2":71.37,"Cr":20.3,"g":"p"},{"SiO2":72.24,"Cr":25.8,"g":"p"},{"SiO2":73.9,"Cr":8.7,"g":"p"},{"SiO2":69.39,"Cr":13.7,"g":"p"},{"SiO2":69.57,"Cr":11.2,"g":"p"},{"SiO2":69.39,"Cr":7.8,"g":"p"},{"SiO2":69.66,"Cr":5.3,"g":"p"},{"SiO2":69.93,"Cr":8.7,"g":"p"},{"SiO2":69.57,"Cr":2.8,"g":"p"},{"SiO2":70.1,"Cr":2.8,"g":"p"},{"SiO2":70.46,"Cr":4.5,"g":"p"},{"SiO2":70.82,"Cr":10.3,"g":"p"},{"SiO2":71.0,"Cr":8.7,"g":"p"},{"SiO2":71.27,"Cr":7.8,"g":"p"},{"SiO2":71.54,"Cr":9.5,"g":"p"},{"SiO2":71.73,"Cr":7.0,"g":"p"},{"SiO2":70.82,"Cr":4.5,"g":"p"},{"SiO2":71.36,"Cr":3.7,"g":"p"},{"SiO2":71.9,"Cr":4.5,"g":"p"},{"SiO2":72.27,"Cr":7.0,"g":"p"},{"SiO2":72.63,"Cr":6.2,"g":"p"},{"SiO2":72.81,"Cr":7.0,"g":"p"},{"SiO2":72.45,"Cr":2.8,"g":"p"},{"SiO2":72.99,"Cr":2.8,"g":"p"},{"SiO2":73.35,"Cr":3.7,"g":"p"},{"SiO2":73.71,"Cr":2.8,"g":"p"},{"SiO2":74.07,"Cr":2.8,"g":"p"},{"SiO2":74.43,"Cr":3.7,"g":"p"},{"SiO2":74.79,"Cr":5.3,"g":"p"},{"SiO2":74.97,"Cr":2.8,"g":"p"},{"SiO2":68.5,"Cr":12.5,"g":"p"},
{"SiO2":64.65,"Cr":8.7,"g":"t"},{"SiO2":65.81,"Cr":10.4,"g":"t"},{"SiO2":66.58,"Cr":10.8,"g":"t"},{"SiO2":67.28,"Cr":7.8,"g":"t"},{"SiO2":68.47,"Cr":11.7,"g":"t"},{"SiO2":68.99,"Cr":12.2,"g":"t"}],
"d_red":[{"SiO2":60.88,"Cr":193.0},{"SiO2":61.25,"Cr":191.3},{"SiO2":61.8,"Cr":183.5},{"SiO2":62.72,"Cr":169.6},{"SiO2":63.82,"Cr":152.2},{"SiO2":64.93,"Cr":134.8},{"SiO2":66.03,"Cr":117.4},{"SiO2":67.13,"Cr":100.0},{"SiO2":67.87,"Cr":87.0},{"SiO2":68.1,"Cr":82.0},{"SiO2":68.24,"Cr":72.2},{"SiO2":68.49,"Cr":67.8},{"SiO2":69.21,"Cr":51.2},{"SiO2":69.93,"Cr":37.8},{"SiO2":70.11,"Cr":30.3},{"SiO2":69.93,"Cr":26.2},{"SiO2":69.39,"Cr":16.2},{"SiO2":68.85,"Cr":8.7},{"SiO2":68.49,"Cr":7.0},{"SiO2":66.87,"Cr":7.5},{"SiO2":65.06,"Cr":8.2},{"SiO2":63.62,"Cr":9.2},{"SiO2":62.72,"Cr":13.7},{"SiO2":62.18,"Cr":17.8},{"SiO2":61.64,"Cr":20.7},{"SiO2":60.02,"Cr":22.0},{"SiO2":58.94,"Cr":22.8},{"SiO2":58.67,"Cr":27.0},{"SiO2":58.22,"Cr":37.8},{"SiO2":57.68,"Cr":51.2},{"SiO2":57.05,"Cr":71.2},{"SiO2":56.84,"Cr":79.1},{"SiO2":56.29,"Cr":93.0},{"SiO2":55.64,"Cr":109.6},{"SiO2":55.18,"Cr":113.0},{"SiO2":54.82,"Cr":119.1},{"SiO2":54.72,"Cr":126.1},{"SiO2":54.82,"Cr":131.3},{"SiO2":55.09,"Cr":137.4},{"SiO2":56.1,"Cr":150.4},{"SiO2":57.39,"Cr":162.6},{"SiO2":58.68,"Cr":174.8},{"SiO2":59.78,"Cr":187.0},{"SiO2":60.42,"Cr":192.2}],
"d_blk":[{"SiO2":60.97,"Cr":117.4},{"SiO2":61.43,"Cr":115.7},{"SiO2":62.72,"Cr":108.7},{"SiO2":64.19,"Cr":100.9},{"SiO2":65.66,"Cr":93.9},{"SiO2":66.76,"Cr":87.8},{"SiO2":67.5,"Cr":81.7},{"SiO2":68.05,"Cr":75.7},{"SiO2":67.77,"Cr":54.5},{"SiO2":67.23,"Cr":37.8},{"SiO2":66.69,"Cr":21.2},{"SiO2":66.33,"Cr":17.0},{"SiO2":65.06,"Cr":17.0},{"SiO2":63.62,"Cr":16.2},{"SiO2":62.18,"Cr":14.5},{"SiO2":61.46,"Cr":15.3},{"SiO2":60.2,"Cr":18.7},{"SiO2":59.12,"Cr":22.8},{"SiO2":58.67,"Cr":29.5},{"SiO2":58.58,"Cr":37.8},{"SiO2":58.76,"Cr":46.2},{"SiO2":59.66,"Cr":56.2},{"SiO2":60.51,"Cr":66.0},{"SiO2":60.97,"Cr":79.1},{"SiO2":61.16,"Cr":89.6},{"SiO2":61.16,"Cr":100.0},{"SiO2":60.88,"Cr":109.6},{"SiO2":60.7,"Cr":113.9}],
"d_blu":[{"SiO2":53.8,"Cr":13.9},{"SiO2":54.82,"Cr":17.0},{"SiO2":56.6,"Cr":18.5},{"SiO2":57.94,"Cr":17.4},{"SiO2":59.41,"Cr":14.8},{"SiO2":60.56,"Cr":13.4},{"SiO2":61.25,"Cr":13.0},{"SiO2":62.36,"Cr":14.2},{"SiO2":64.16,"Cr":16.2},{"SiO2":65.96,"Cr":17.0},{"SiO2":66.76,"Cr":19.5},{"SiO2":67.23,"Cr":21.2},{"SiO2":67.68,"Cr":27.8},{"SiO2":68.13,"Cr":37.8},{"SiO2":68.67,"Cr":40.8},{"SiO2":70.47,"Cr":42.5},{"SiO2":72.45,"Cr":43.5},{"SiO2":73.26,"Cr":42.0},{"SiO2":73.5,"Cr":36.2},{"SiO2":73.53,"Cr":21.2},{"SiO2":73.35,"Cr":9.0},{"SiO2":72.99,"Cr":4.5},{"SiO2":72.27,"Cr":2.5},{"SiO2":70.47,"Cr":1.8},{"SiO2":68.67,"Cr":2.3},{"SiO2":66.87,"Cr":2.8},{"SiO2":65.06,"Cr":3.6},{"SiO2":63.26,"Cr":4.5},{"SiO2":61.46,"Cr":5.2},{"SiO2":59.66,"Cr":6.2},{"SiO2":57.86,"Cr":7.0},{"SiO2":56.06,"Cr":7.5},{"SiO2":54.27,"Cr":8.2},{"SiO2":53.84,"Cr":10.4}]
},
"concat":[
{
 "width":459,"height":384,
 "layer":[
  {
   "encoding":{
    "x":{"field":"SiO2","type":"quantitative","scale":{"domain":[50,75],"nice":false,"zero":false},"axis":{"values":[50,55,60,65,70,75],"labels":false,"title":null}},
    "y":{"field":"MgO","type":"quantitative","scale":{"domain":[0,7],"nice":false},"axis":{"values":[0,1,2,3,4,5,6],"format":"d","title":"MgO (wt. %)","labelPadding":12,"titleX":-44,"titleY":198}}
   },
   "layer":[
    {"data":{"name":"a_blu"},"transform":[{"window":[{"op":"row_number","as":"i"}]}],"mark":{"type":"line","interpolate":"cardinal-closed","clip":true,"color":"#2aa0e6","strokeWidth":1.5,"strokeDash":[6,3,1.5,3]},"encoding":{"order":{"field":"i","type":"quantitative"}}},
    {"data":{"name":"a_blk"},"transform":[{"window":[{"op":"row_number","as":"i"}]}],"mark":{"type":"line","interpolate":"linear-closed","clip":true,"color":"#222222","strokeWidth":1.4,"strokeDash":[6,4]},"encoding":{"order":{"field":"i","type":"quantitative"}}},
    {"data":{"name":"a_red"},"transform":[{"window":[{"op":"row_number","as":"i"}]}],"mark":{"type":"line","interpolate":"cardinal-closed","clip":true,"color":"#e2231a","strokeWidth":1.6},"encoding":{"order":{"field":"i","type":"quantitative"}}},
    {"data":{"name":"a_pts"},"transform":[{"filter":"datum.g=='p'"}],"mark":{"type":"circle","color":"#9aa1a9","size":75,"opacity":1}},
    {"data":{"name":"a_pts"},"transform":[{"filter":"datum.g=='t'"}],"mark":{"type":"circle","color":"#363636","stroke":"#111111","strokeWidth":1,"size":120,"opacity":1}}
   ]
  },
  {"data":{"values":[{}]},"mark":{"type":"rule","color":"#111111","strokeWidth":1.5},"encoding":{"x":{"datum":60.34},"y":{"datum":6.3},"x2":{"datum":58.64},"y2":{"datum":5.89}}},
  {"data":{"values":[{}]},"mark":{"type":"point","shape":"triangle-up","filled":true,"color":"#111111","size":170,"opacity":1,"angle":234.5},"encoding":{"x":{"datum":58.64},"y":{"datum":5.89}}},
  {"data":{"values":[{}]},"mark":{"type":"text","font":"Liberation Serif","align":"left","baseline":"alphabetic","fontSize":18,"lineHeight":21,"color":"#1a1a1a"},"encoding":{"x":{"datum":60.43},"y":{"datum":6.34},"text":{"value":["Subducted\u00a0 oceanic","Crust- derived\u00a0 adakites"]}}},
  {"data":{"values":[{}]},"mark":{"type":"rect","color":"#141414"},"encoding":{"x":{"datum":50},"x2":{"datum":51.69},"y":{"datum":7},"y2":{"datum":6.5625}}},
  {"data":{"values":[{}]},"mark":{"type":"text","font":"Liberation Serif","color":"white","fontSize":26,"align":"center","baseline":"middle"},"encoding":{"x":{"datum":50.845},"y":{"datum":6.79},"text":{"value":"a"}}}
 ]
},
{
 "width":458,"height":384,
 "layer":[
  {
   "encoding":{
    "x":{"field":"SiO2","type":"quantitative","scale":{"domain":[50,75],"nice":false,"zero":false},"axis":{"values":[50,55,60,65,70,75],"labels":false,"title":null}},
    "y":{"field":"Mg","type":"quantitative","scale":{"domain":[0,80],"nice":false},"axis":{"values":[0,20,40,60],"format":"d","title":"Mg#","labelPadding":8,"titleX":-31,"titleY":191}}
   },
   "layer":[
    {"data":{"name":"b_blu"},"transform":[{"window":[{"op":"row_number","as":"i"}]}],"mark":{"type":"line","interpolate":"cardinal-closed","clip":true,"color":"#2aa0e6","strokeWidth":1.5,"strokeDash":[6,3,1.5,3]},"encoding":{"order":{"field":"i","type":"quantitative"}}},
    {"data":{"name":"b_blk"},"transform":[{"window":[{"op":"row_number","as":"i"}]}],"mark":{"type":"line","interpolate":"linear-closed","clip":true,"color":"#222222","strokeWidth":1.4,"strokeDash":[6,4]},"encoding":{"order":{"field":"i","type":"quantitative"}}},
    {"data":{"name":"b_red"},"transform":[{"window":[{"op":"row_number","as":"i"}]}],"mark":{"type":"line","interpolate":"cardinal-closed","clip":true,"color":"#e2231a","strokeWidth":1.6},"encoding":{"order":{"field":"i","type":"quantitative"}}},
    {"data":{"name":"b_pts"},"transform":[{"filter":"datum.g=='p'"}],"mark":{"type":"circle","color":"#9aa1a9","size":75,"opacity":1}},
    {"data":{"name":"b_pts"},"transform":[{"filter":"datum.g=='t'"}],"mark":{"type":"circle","color":"#363636","stroke":"#111111","strokeWidth":1,"size":120,"opacity":1}}
   ]
  },
  {"data":{"values":[{}]},"mark":{"type":"rect","fill":"white","stroke":"#222222","strokeWidth":1.5},"encoding":{"x":{"datum":51.18},"x2":{"datum":63.36},"y":{"datum":33.15},"y2":{"datum":9.5}}},
  {"data":{"values":[{}]},"mark":{"type":"text","font":"Liberation Serif","align":"left","baseline":"alphabetic","fontSize":19},"encoding":{"x":{"datum":51.36},"y":{"datum":28.9},"text":{"value":"Permian"}}},
  {"data":{"values":[{}]},"mark":{"type":"text","font":"Liberation Serif","align":"left","baseline":"alphabetic","fontSize":16.5},"encoding":{"x":{"datum":55.37},"y":{"datum":28.9},"text":{"value":"Adakitic rocks"}}},
  {"data":{"values":[{}]},"mark":{"type":"text","font":"Liberation Serif","align":"left","baseline":"alphabetic","fontSize":19},"encoding":{"x":{"datum":51.36},"y":{"datum":24.6},"text":{"value":"in eastern CAOB"}}},
  {"data":{"values":[{}]},"mark":{"type":"circle","color":"#363636","stroke":"#111111","strokeWidth":1,"size":100,"opacity":1},"encoding":{"x":{"datum":51.84},"y":{"datum":19.07}}},
  {"data":{"values":[{}]},"mark":{"type":"circle","color":"#9aa1a9","size":45,"opacity":1},"encoding":{"x":{"datum":51.88},"y":{"datum":13.18}}},
  {"data":{"values":[{}]},"mark":{"type":"text","font":"Liberation Serif","align":"left","baseline":"alphabetic","fontSize":20,"fontStyle":"italic"},"encoding":{"x":{"datum":52.46},"y":{"datum":17.7},"text":{"value":"This study"}}},
  {"data":{"values":[{}]},"mark":{"type":"text","font":"Liberation Serif","align":"left","baseline":"alphabetic","fontSize":20,"fontStyle":"italic"},"encoding":{"x":{"datum":52.61},"y":{"datum":12.1},"text":{"value":"Previously documented"}}},
  {"data":{"values":[{}]},"mark":{"type":"rect","color":"#141414"},"encoding":{"x":{"datum":50},"x2":{"datum":51.66},"y":{"datum":80},"y2":{"datum":75}}},
  {"data":{"values":[{}]},"mark":{"type":"text","font":"Liberation Serif","color":"white","fontSize":26,"align":"center","baseline":"middle"},"encoding":{"x":{"datum":50.83},"y":{"datum":77.6},"text":{"value":"b"}}}
 ]
},
{
 "width":459,"height":384,
 "layer":[
  {
   "encoding":{
    "x":{"field":"SiO2","type":"quantitative","scale":{"domain":[50,75],"nice":false,"zero":false},"axis":{"values":[50,55,60,65,70,75],"format":"d","title":"SiO₂ (wt. %)","labelPadding":17,"titleX":275,"titleY":42}},
    "y":{"field":"TiO2","type":"quantitative","scale":{"domain":[0,1.42],"nice":false},"axis":{"values":[0.2,0.4,0.6,0.8,1.0,1.2],"format":".1f","title":"TiO₂(wt. %)","labelPadding":8,"titleX":-42,"titleY":170}}
   },
   "layer":[
    {"data":{"name":"c_blu"},"transform":[{"window":[{"op":"row_number","as":"i"}]}],"mark":{"type":"line","interpolate":"cardinal-closed","clip":true,"color":"#2aa0e6","strokeWidth":1.5,"strokeDash":[6,3,1.5,3]},"encoding":{"order":{"field":"i","type":"quantitative"}}},
    {"data":{"name":"c_blk"},"transform":[{"window":[{"op":"row_number","as":"i"}]}],"mark":{"type":"line","interpolate":"cardinal-closed","clip":true,"color":"#222222","strokeWidth":1.4,"strokeDash":[6,4]},"encoding":{"order":{"field":"i","type":"quantitative"}}},
    {"data":{"name":"c_red"},"transform":[{"window":[{"op":"row_number","as":"i"}]}],"mark":{"type":"line","interpolate":"cardinal-closed","clip":true,"color":"#e2231a","strokeWidth":1.6},"encoding":{"order":{"field":"i","type":"quantitative"}}},
    {"data":{"name":"c_pts"},"transform":[{"filter":"datum.g=='p'"}],"mark":{"type":"circle","color":"#9aa1a9","size":75,"opacity":1}},
    {"data":{"name":"c_pts"},"transform":[{"filter":"datum.g=='t'"}],"mark":{"type":"circle","color":"#363636","stroke":"#111111","strokeWidth":1,"size":120,"opacity":1}}
   ]
  },
  {"data":{"values":[{}]},"mark":{"type":"rule","color":"#111111","strokeWidth":1.5},"encoding":{"x":{"datum":57.81},"y":{"datum":0.471},"x2":{"datum":58.77},"y2":{"datum":0.582}}},
  {"data":{"values":[{}]},"mark":{"type":"point","shape":"triangle-up","filled":true,"color":"#111111","size":170,"opacity":1,"angle":30},"encoding":{"x":{"datum":58.77},"y":{"datum":0.582}}},
  {"data":{"values":[{}]},"mark":{"type":"text","font":"Liberation Serif","align":"left","baseline":"alphabetic","fontSize":18,"lineHeight":22.5,"color":"#1a1a1a"},"encoding":{"x":{"datum":53.88},"y":{"datum":0.375},"text":{"value":["Delaminated\u00a0 lower","crust- derived","adakites"]}}},
  {"data":{"values":[{}]},"mark":{"type":"rect","color":"#141414"},"encoding":{"x":{"datum":50},"x2":{"datum":51.69},"y":{"datum":1.42},"y2":{"datum":1.331}}},
  {"data":{"values":[{}]},"mark":{"type":"text","font":"Liberation Serif","color":"white","fontSize":26,"align":"center","baseline":"middle"},"encoding":{"x":{"datum":50.845},"y":{"datum":1.378},"text":{"value":"c"}}}
 ]
},
{
 "width":458,"height":384,
 "layer":[
  {
   "encoding":{
    "x":{"field":"SiO2","type":"quantitative","scale":{"domain":[50,75],"nice":false,"zero":false},"axis":{"values":[50,55,60,65,70,75],"format":"d","title":"SiO₂ (wt. %)","labelPadding":17,"titleX":269,"titleY":42}},
    "y":{"field":"Cr","type":"quantitative","scale":{"domain":[0,200],"nice":false},"axis":{"values":[40,80,120,160],"format":"d","title":"Cr (ppm)","labelPadding":8,"titleX":-39,"titleY":166}}
   },
   "layer":[
    {"data":{"name":"d_blu"},"transform":[{"window":[{"op":"row_number","as":"i"}]}],"mark":{"type":"line","interpolate":"cardinal-closed","clip":true,"color":"#2aa0e6","strokeWidth":1.5,"strokeDash":[6,3,1.5,3]},"encoding":{"order":{"field":"i","type":"quantitative"}}},
    {"data":{"name":"d_blk"},"transform":[{"window":[{"op":"row_number","as":"i"}]}],"mark":{"type":"line","interpolate":"linear-closed","clip":true,"color":"#222222","strokeWidth":1.4,"strokeDash":[6,4]},"encoding":{"order":{"field":"i","type":"quantitative"}}},
    {"data":{"name":"d_red"},"transform":[{"window":[{"op":"row_number","as":"i"}]}],"mark":{"type":"line","interpolate":"linear-closed","clip":true,"color":"#e2231a","strokeWidth":1.6},"encoding":{"order":{"field":"i","type":"quantitative"}}},
    {"data":{"name":"d_pts"},"transform":[{"filter":"datum.g=='p'"}],"mark":{"type":"circle","color":"#9aa1a9","size":75,"opacity":1}},
    {"data":{"name":"d_pts"},"transform":[{"filter":"datum.g=='t'"}],"mark":{"type":"circle","color":"#363636","stroke":"#111111","strokeWidth":1,"size":120,"opacity":1}}
   ]
  },
  {"data":{"values":[{}]},"mark":{"type":"rule","color":"#111111","strokeWidth":1.5},"encoding":{"x":{"datum":72.15},"y":{"datum":94.8},"x2":{"datum":72.58},"y2":{"datum":47.8}}},
  {"data":{"values":[{}]},"mark":{"type":"point","shape":"triangle-up","filled":true,"color":"#111111","size":170,"opacity":1,"angle":175},"encoding":{"x":{"datum":72.58},"y":{"datum":47.8}}},
  {"data":{"values":[{}]},"mark":{"type":"text","font":"Liberation Serif","align":"left","baseline":"alphabetic","fontSize":18,"lineHeight":22.3,"color":"#1a1a1a"},"encoding":{"x":{"datum":68.73},"y":{"datum":116.5},"text":{"value":["Thick\u00a0 lower","crust- derived","adakites"]}}},
  {"data":{"values":[{}]},"mark":{"type":"rect","color":"#141414"},"encoding":{"x":{"datum":50},"x2":{"datum":51.66},"y":{"datum":200},"y2":{"datum":187.5}}},
  {"data":{"values":[{}]},"mark":{"type":"text","font":"Liberation Serif","color":"white","fontSize":26,"align":"center","baseline":"middle"},"encoding":{"x":{"datum":50.83},"y":{"datum":193.9},"text":{"value":"d"}}}
 ]
}
]
}
